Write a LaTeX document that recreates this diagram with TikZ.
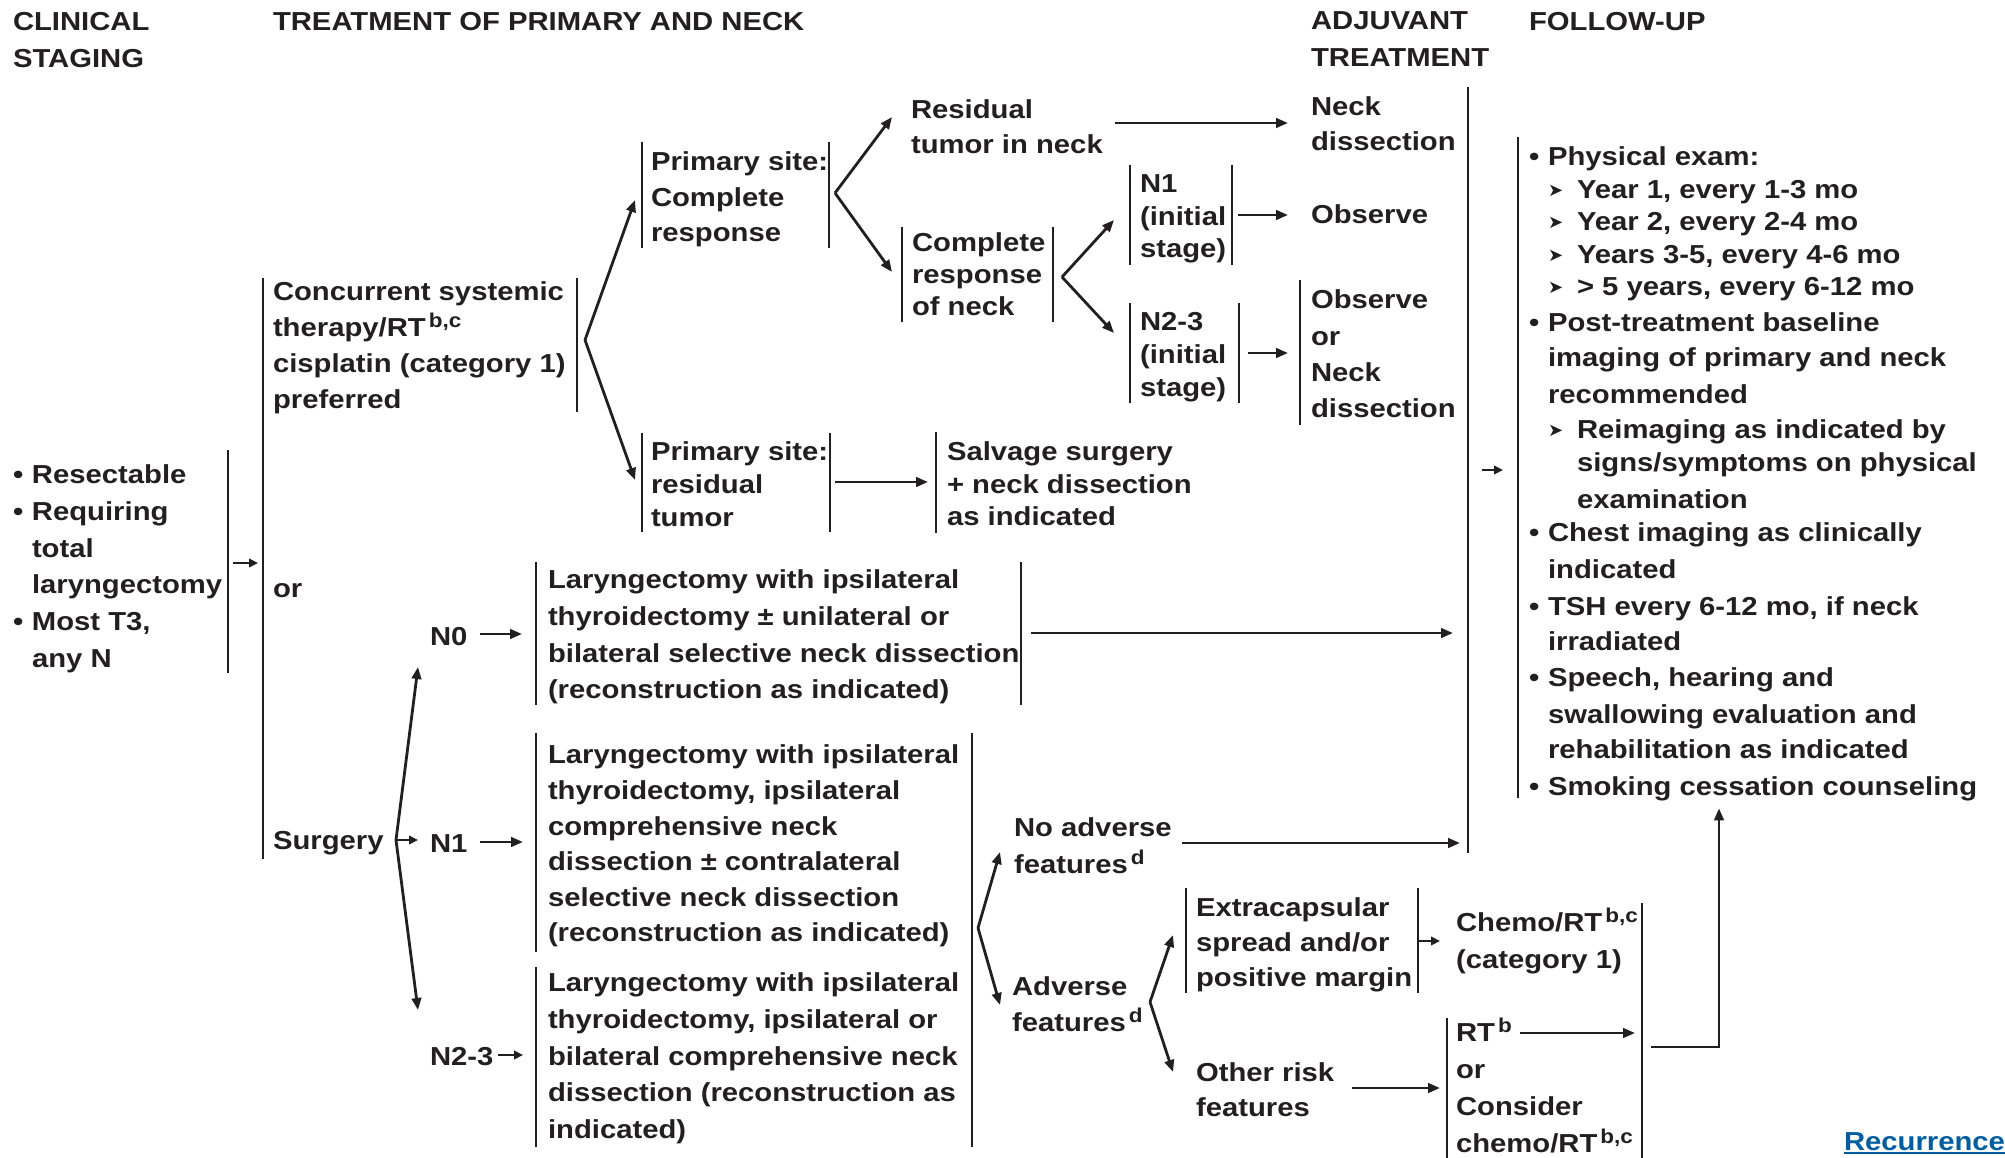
\documentclass[tikz,border=0pt]{standalone}
\usepackage{fontspec}
\setmainfont{Liberation Sans}[FakeStretch=1.125]
\newfontfamily\dejavu{DejaVu Sans}
\usetikzlibrary{arrows.meta,fit,calc}
\definecolor{ink}{RGB}{35,31,32}
\definecolor{linkblue}{RGB}{0,94,160}
\newcommand\bul{\makebox[19pt][l]{•}}
\newcommand\ind{\hspace*{19pt}}
\newcommand\indd{\hspace*{48pt}}
\newcommand\subi{\hspace*{19pt}\makebox[29pt][l]{\raisebox{2pt}{\dejavu\mdseries\fontsize{18}{18}\selectfont ➤}}}
\newcommand\sups[1]{\hspace{3pt}\smash{\raisebox{9pt}{\fontsize{20}{20}\selectfont #1}}}
\begin{document}
\begin{tikzpicture}[x=1pt,y=-1pt,
  txt/.style={anchor=north west, inner sep=0pt, outer sep=0pt, align=left, text=ink,
    font=\bfseries\fontsize{26}{#1}\selectfont},
  txt/.default=36,
  bar/.style={draw=ink, line width=2.5pt},
  frame/.style={inner sep=0pt, outer sep=0pt, minimum width=0pt, minimum height=0pt, draw=none},
  lbar/.style={append after command={(\tikzlastnode.north west) edge[bar] (\tikzlastnode.south west)}},
  rbar/.style={append after command={(\tikzlastnode.north east) edge[bar] (\tikzlastnode.south east)}},
  arr/.style={draw=ink, line width=2.8pt, -{Triangle[length=12pt,width=9.5pt]}},
  sarr/.style={draw=ink, line width=2.8pt, -{Triangle[length=9pt,width=8.5pt]}}]
\fill[white] (0,0) rectangle (2005,1158);
\useasboundingbox (0,0) rectangle (2005,1158);

% headers
\node[txt=37] (hclin) at (13,12) {CLINICAL\\STAGING};
\node[txt] (htreat) at (273,12) {TREATMENT OF PRIMARY AND NECK};
\node[txt=37] (hadj) at (1311,12) {ADJUVANT\\TREATMENT};
\node[txt] (hfup) at (1529,12) {FOLLOW-UP};

% frames (bars)
\node[frame, rbar, fit={(13,450) (228,673)}] (stage) {};
\node[frame, lbar, fit={(263,278) (263,859)}] (tx) {};
\node[frame, rbar, fit={(263,278) (577,412)}] (conc) {};
\node[frame, lbar, rbar, fit={(642,142) (829,248)}] (pcr) {};
\node[frame, lbar, rbar, fit={(902,227) (1053,322)}] (cneck) {};
\node[frame, lbar, rbar, fit={(1130,165) (1232,265)}] (n1i) {};
\node[frame, lbar, rbar, fit={(1130,303) (1239,403)}] (n23i) {};
\node[frame, lbar, fit={(1300,280) (1440,425)}] (obsor) {};
\node[frame, lbar, fit={(1468,87) (1468,853)}] (adj) {};
\node[frame, lbar, fit={(1518,137) (1995,798)}] (fup) {};
\node[frame, lbar, rbar, fit={(642,433) (830,532)}] (prr) {};
\node[frame, lbar, fit={(936,432) (1200,533)}] (salv) {};
\node[frame, lbar, rbar, fit={(536,562) (1021,705)}] (n0b) {};
\node[frame, lbar, fit={(536,733) (972,952)}] (n1b) {};
\node[frame, lbar, fit={(536,967) (972,1147)}] (n23b) {};
\draw[bar] (n1b.north east) -- (n23b.south east);
\node[frame, lbar, rbar, fit={(1186,888) (1418,993)}] (ext) {};
\node[frame, rbar, fit={(1447,903) (1642,1158)}] (chemob) {};
\node[frame, lbar, fit={(1447,1018) (1642,1158)}] (rtb) {};

% texts
\node[txt=36.7] (tstage) at (13,465) {\bul Resectable\\\bul Requiring\\\ind total\\\ind laryngectomy\\\bul Most T3,\\\ind any N};
\node[txt] (tconc) at (273,282) {Concurrent systemic\\therapy/RT\sups{b,c}\\cisplatin (category 1)\\preferred};
\node[txt, anchor=base west] (tor) at (273,597) {or};
\node[txt, anchor=base west] (tsurg) at (273,849) {Surgery};
\node[txt=35.5] (tpcr) at (651,152) {Primary site:\\Complete\\response};
\node[txt=35] (tresid) at (911,100) {Residual\\tumor in neck};
\node[txt=35] (tneckd) at (1311,97) {Neck\\dissection};
\node[txt=32] (tcneck) at (912,233) {Complete\\response\\of neck};
\node[txt=32.5] (tn1i) at (1140,175) {N1\\(initial\\stage)};
\node[txt] (tobs) at (1311,205) {Observe};
\node[txt=33] (tn23i) at (1140,312) {N2-3\\(initial\\stage)};
\node[txt=36.3] (tobsor) at (1311,290) {Observe\\or\\Neck\\dissection};
\node[txt=33] (tprr) at (651,442) {Primary site:\\residual\\tumor};
\node[txt=32.5] (tsalv) at (947,442) {Salvage surgery\\+ neck dissection\\as indicated};
\node[txt=36.7] (tn0) at (548,570) {Laryngectomy with ipsilateral\\thyroidectomy ± unilateral or\\bilateral selective neck dissection\\(reconstruction as indicated)};
\node[txt, anchor=base west] (ln0) at (430,645) {N0};
\node[txt, anchor=base west] (ln1) at (430,852) {N1};
\node[txt, anchor=base west] (ln23) at (430,1065) {N2-3};
\node[txt=35.6] (tn1) at (548,745) {Laryngectomy with ipsilateral\\thyroidectomy, ipsilateral\\comprehensive neck\\dissection ± contralateral\\selective neck dissection\\(reconstruction as indicated)};
\node[txt=36.7] (tn23) at (548,973) {Laryngectomy with ipsilateral\\thyroidectomy, ipsilateral or\\bilateral comprehensive neck\\dissection (reconstruction as\\indicated)};
\node[txt=37] (tnoadv) at (1014,818) {No adverse\\features\sups{d}};
\node[txt=36] (tadv) at (1012,977) {Adverse\\features\sups{d}};
\node[txt=35] (textc) at (1196,898) {Extracapsular\\spread and/or\\positive margin};
\node[txt=37] (tchemo) at (1456,913) {Chemo/RT\sups{b,c}\\(category 1)};
\node[txt=35] (tother) at (1196,1063) {Other risk\\features};
\node[txt=37] (trt) at (1456,1024) {RT\sups{b}\\or\\Consider\\chemo/RT\sups{b,c}};
\node[txt] (tfup) at (1529,147) {\bul Physical exam:\\[-3pt]
\subi Year 1, every 1-3 mo\\[-4pt]
\subi Year 2, every 2-4 mo\\[-3pt]
\subi Years 3-5, every 4-6 mo\\[-4pt]
\subi > 5 years, every 6-12 mo\\
\bul Post-treatment baseline\\[-1pt]
\ind imaging of primary and neck\\[1pt]
\ind recommended\\[-1pt]
\subi Reimaging as indicated by\\[-3pt]
\indd signs/symptoms on physical\\[1pt]
\indd examination\\[-3pt]
\bul Chest imaging as clinically\\[1pt]
\ind indicated\\[1pt]
\bul TSH every 6-12 mo, if neck\\[-1pt]
\ind irradiated\\
\bul Speech, hearing and\\[1pt]
\ind swallowing evaluation and\\[-1pt]
\ind rehabilitation as indicated\\[1pt]
\bul Smoking cessation counseling};
\node[txt, anchor=base west, text=linkblue] (trec) at (1844,1150) {Recurrence};
\draw[linkblue, line width=2pt] ([yshift=-3pt]trec.base west) -- ([yshift=-3pt]trec.base east);

% fork points
\coordinate (cfork) at (585,340);
\coordinate (pfork) at (835,193);
\coordinate (nfork) at (1062,277);
\coordinate (sfork) at (396,840);
\coordinate (afork) at (978,928);
\coordinate (bfork) at (1150,1002);

% connectors
\draw[sarr, shorten <=5pt, shorten >=5pt] (stage.east |- 0,563) -- (tx.west |- 0,563);
\draw[arr] (cfork) -- ($(pcr.west |- 0,200)+(-7,0)$);
\draw[arr] (cfork) -- ($(prr.west |- 0,480)+(-7,0)$);
\draw[arr] (pfork) -- ($(tresid.west |- 0,117)+(-19,0)$);
\draw[arr] (pfork) -- ($(cneck.west |- 0,272)+(-10,0)$);
\draw[arr] (nfork) -- ($(n1i.west |- 0,220)+(-16,0)$);
\draw[arr] (nfork) -- ($(n23i.west |- 0,333)+(-16,0)$);
\draw[arr] (sfork) -- ($(ln0.west |- 0,667)+(-12,0)$);
\draw[arr] (sfork) -- ($(ln23.west |- 0,1010)+(-12,0)$);
\draw[sarr] (sfork) -- ($(ln1.west |- 0,840)+(-12,0)$);
\draw[arr] (afork) -- ($(tnoadv.west |- 0,852)+(-14,0)$);
\draw[arr] (afork) -- ($(tadv.west |- 0,1005)+(-12,0)$);
\draw[arr] (bfork) -- ($(ext.west |- 0,935)+(-13,0)$);
\draw[arr] (bfork) -- ($(tother.west |- 0,1072)+(-23,0)$);

\draw[arr, shorten <=12pt, shorten >=23pt] (tresid.east |- 0,123) -- (tneckd.west |- 0,123);
\draw[arr, shorten <=6pt, shorten >=23pt] (n1i.east |- 0,215) -- (tobs.west |- 0,215);
\draw[arr, shorten <=9pt, shorten >=12pt] (n23i.east |- 0,353) -- (obsor.west |- 0,353);
\draw[arr, shorten <=5pt, shorten >=8pt] (prr.east |- 0,482) -- (salv.west |- 0,482);
\draw[arr, shorten <=10pt, shorten >=15pt] (n0b.east |- 0,633) -- (adj.west |- 0,633);
\draw[sarr, shorten <=14pt, shorten >=15pt] (adj.east |- 0,470) -- (fup.west |- 0,470);
\draw[arr, shorten <=13pt, shorten >=14pt] (ln0.east |- 0,634) -- (n0b.west |- 0,634);
\draw[arr, shorten <=13pt, shorten >=13pt] (ln1.east |- 0,842) -- (n1b.west |- 0,842);
\draw[sarr, shorten <=5pt, shorten >=13pt] (ln23.east |- 0,1055) -- (n23b.west |- 0,1055);
\draw[arr, shorten <=10pt, shorten >=8pt] (tnoadv.east |- 0,843) -- (adj.west |- 0,843);
\draw[sarr, shorten <=1pt, shorten >=16pt] (ext.east |- 0,941) -- (tchemo.west |- 0,941);
\draw[arr, shorten <=18pt, shorten >=7pt] (tother.east |- 0,1088) -- (rtb.west |- 0,1088);
\draw[arr, shorten >=7pt] ($(trt.north west)+(64,9)$) -- (chemob.east |- 0,1033);
\draw[arr] ($(chemob.east |- 0,1047)+(9,0)$) -| ($(tfup.south west)+(190,7)$);
\end{tikzpicture}
\end{document}
